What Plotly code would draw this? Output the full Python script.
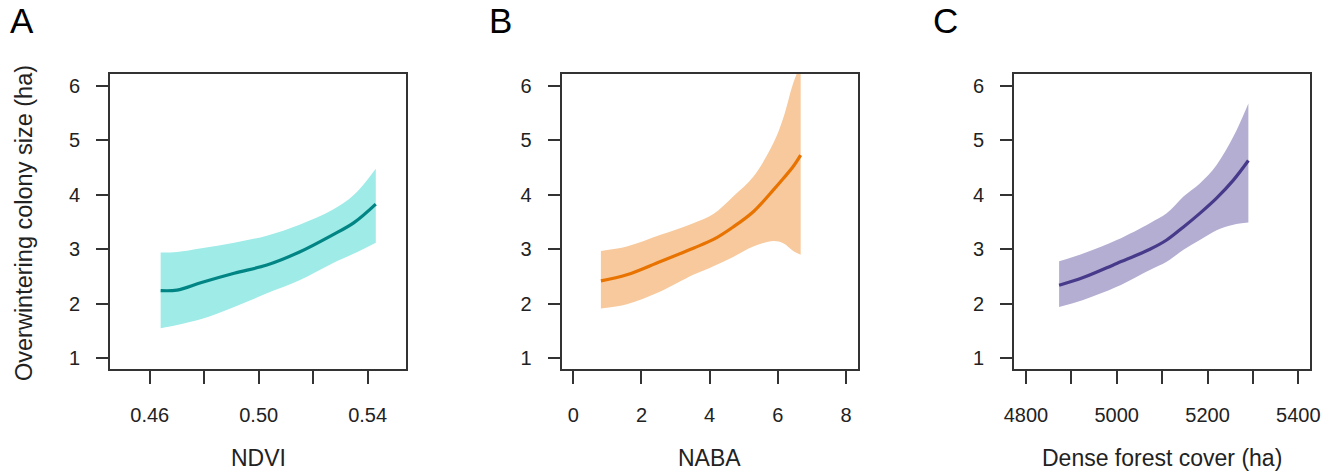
import plotly.graph_objects as go

# ---------------- data ----------------
# Panel A: NDVI
ndvi_x = [0.464, 0.470, 0.479, 0.491, 0.503, 0.515, 0.527, 0.535, 0.543]
ndvi_fit = [2.24, 2.25, 2.39, 2.56, 2.71, 2.95, 3.26, 3.49, 3.83]
ndvi_upper = [2.94, 2.95, 3.02, 3.12, 3.25, 3.45, 3.72, 4.00, 4.48]
ndvi_lower = [1.55, 1.61, 1.72, 1.94, 2.19, 2.43, 2.74, 2.92, 3.12]

# Panel B: NABA
naba_x = [0.81, 1.57, 2.54, 3.52, 4.11, 4.69, 5.28, 5.87, 6.16, 6.45, 6.67]
naba_fit = [2.42, 2.53, 2.77, 3.02, 3.18, 3.41, 3.69, 4.09, 4.30, 4.52, 4.73]
naba_upper = [2.97, 3.05, 3.26, 3.48, 3.65, 3.97, 4.33, 4.95, 5.41, 6.05, 6.40]
naba_lower = [1.91, 1.99, 2.22, 2.53, 2.69, 2.86, 3.05, 3.15, 3.11, 2.97, 2.90]

# Panel C: Dense forest cover (ha)
forest_x = [4873, 4926, 5000, 5073, 5110, 5147, 5183, 5220, 5257, 5290]
forest_fit = [2.34, 2.48, 2.74, 3.00, 3.17, 3.41, 3.66, 3.94, 4.27, 4.63]
forest_upper = [2.78, 2.92, 3.17, 3.48, 3.66, 3.97, 4.21, 4.55, 5.07, 5.68]
forest_lower = [1.94, 2.07, 2.31, 2.62, 2.77, 2.99, 3.17, 3.35, 3.45, 3.49]

panel_letters = ["A", "B", "C"]
x_titles = ["NDVI", "NABA", "Dense forest cover (ha)"]
y_title = "Overwintering colony size (ha)"

y_tickvals = [1, 2, 3, 4, 5, 6]
a_tickvals = [0.46, 0.48, 0.50, 0.52, 0.54]
a_ticktext = ["0.46", "", "0.50", "", "0.54"]
b_tickvals = [0, 2, 4, 6, 8]
b_ticktext = ["0", "2", "4", "6", "8"]
c_tickvals = [4800, 4900, 5000, 5100, 5200, 5300, 5400]
c_ticktext = ["4800", "", "5000", "", "5200", "", "5400"]

# ---------------- styling ----------------
W, H = 1335, 473
FONT = "Liberation Sans, Arial, sans-serif"
TXT = "#222222"
AX = "#333333"

panels = [
    dict(x=ndvi_x, fit=ndvi_fit, up=ndvi_upper, lo=ndvi_lower,
         fill="#9EEBE8", line="#008584", px=(110, 406),
         xr=[0.4454, 0.5541], tv=a_tickvals, tt=a_ticktext),
    dict(x=naba_x, fit=naba_fit, up=naba_upper, lo=naba_lower,
         fill="#F7C99C", line="#E87300", px=(561.7, 857.7),
         xr=[-0.34, 8.343], tv=b_tickvals, tt=b_ticktext),
    dict(x=forest_x, fit=forest_fit, up=forest_upper, lo=forest_lower,
         fill="#B4AED2", line="#473A8A", px=(1014, 1310),
         xr=[4773.6, 5425.8], tv=c_tickvals, tt=c_ticktext),
]

y_top_px, y_bot_px = 74, 369
ydom = [1 - y_bot_px / H, 1 - y_top_px / H]

fig = go.Figure()
annotations = []
SM = 1.0

for i, p in enumerate(panels):
    n = "" if i == 0 else str(i + 1)
    xa, ya = "x" + n, "y" + n
    fig.add_trace(go.Scatter(x=p["x"], y=p["up"], mode="lines",
                             line=dict(width=0, color=p["fill"], shape="spline", smoothing=SM),
                             hoverinfo="skip", showlegend=False, xaxis=xa, yaxis=ya))
    fig.add_trace(go.Scatter(x=p["x"], y=p["lo"], mode="lines", fill="tonexty",
                             fillcolor=p["fill"],
                             line=dict(width=0, color=p["fill"], shape="spline", smoothing=SM),
                             hoverinfo="skip", showlegend=False, xaxis=xa, yaxis=ya))
    fig.add_trace(go.Scatter(x=p["x"], y=p["fit"], mode="lines",
                             line=dict(width=3.2, color=p["line"], shape="spline", smoothing=SM),
                             showlegend=False, xaxis=xa, yaxis=ya))

    xdom = [p["px"][0] / W, p["px"][1] / W]
    common = dict(showgrid=False, zeroline=False, showline=True, mirror=True,
                  automargin=False,
                  linecolor=AX, linewidth=2, ticks="outside", tickcolor=AX,
                  tickwidth=2, tickfont=dict(family=FONT, size=20, color=TXT))
    fig.layout["xaxis" + n] = dict(domain=xdom, range=p["xr"], anchor=ya,
                                   tickmode="array", tickvals=p["tv"], ticktext=p["tt"],
                                   ticklen=13, ticklabelstandoff=14, **common)
    fig.layout["yaxis" + n] = dict(domain=ydom, range=[0.8, 6.22], anchor=xa,
                                   tickmode="array", tickvals=y_tickvals,
                                   ticktext=[str(v) for v in y_tickvals],
                                   ticklen=12, ticklabelstandoff=12, **common)

    cx = (p["px"][0] + p["px"][1]) / 2
    annotations.append(dict(text=x_titles[i], x=cx / W, y=1 - 458 / H,
                            xref="paper", yref="paper", showarrow=False,
                            xanchor="center", yanchor="middle",
                            font=dict(family=FONT, size=23, color=TXT)))

letter_x = [8, 487, 931]
for lx, letter in zip(letter_x, panel_letters):
    annotations.append(dict(text=letter, x=lx / W, y=1 - 20 / H,
                            xref="paper", yref="paper", showarrow=False,
                            xanchor="left", yanchor="middle",
                            font=dict(family=FONT, size=35, color="#000000")))

annotations.append(dict(text=y_title, x=24 / W, y=1 - 223 / H,
                        xref="paper", yref="paper", showarrow=False,
                        textangle=-90, xanchor="center", yanchor="middle",
                        font=dict(family=FONT, size=23.5, color=TXT)))

fig.update_layout(template="none", width=W, height=H,
                  margin=dict(l=0, r=0, t=0, b=0, pad=0, autoexpand=False),
                  paper_bgcolor="white", plot_bgcolor="white",
                  annotations=annotations, showlegend=False)

fig.write_html("out.html", config={"displayModeBar": False},
               post_script="document.body.style.margin='0';document.body.style.overflow='hidden';")
